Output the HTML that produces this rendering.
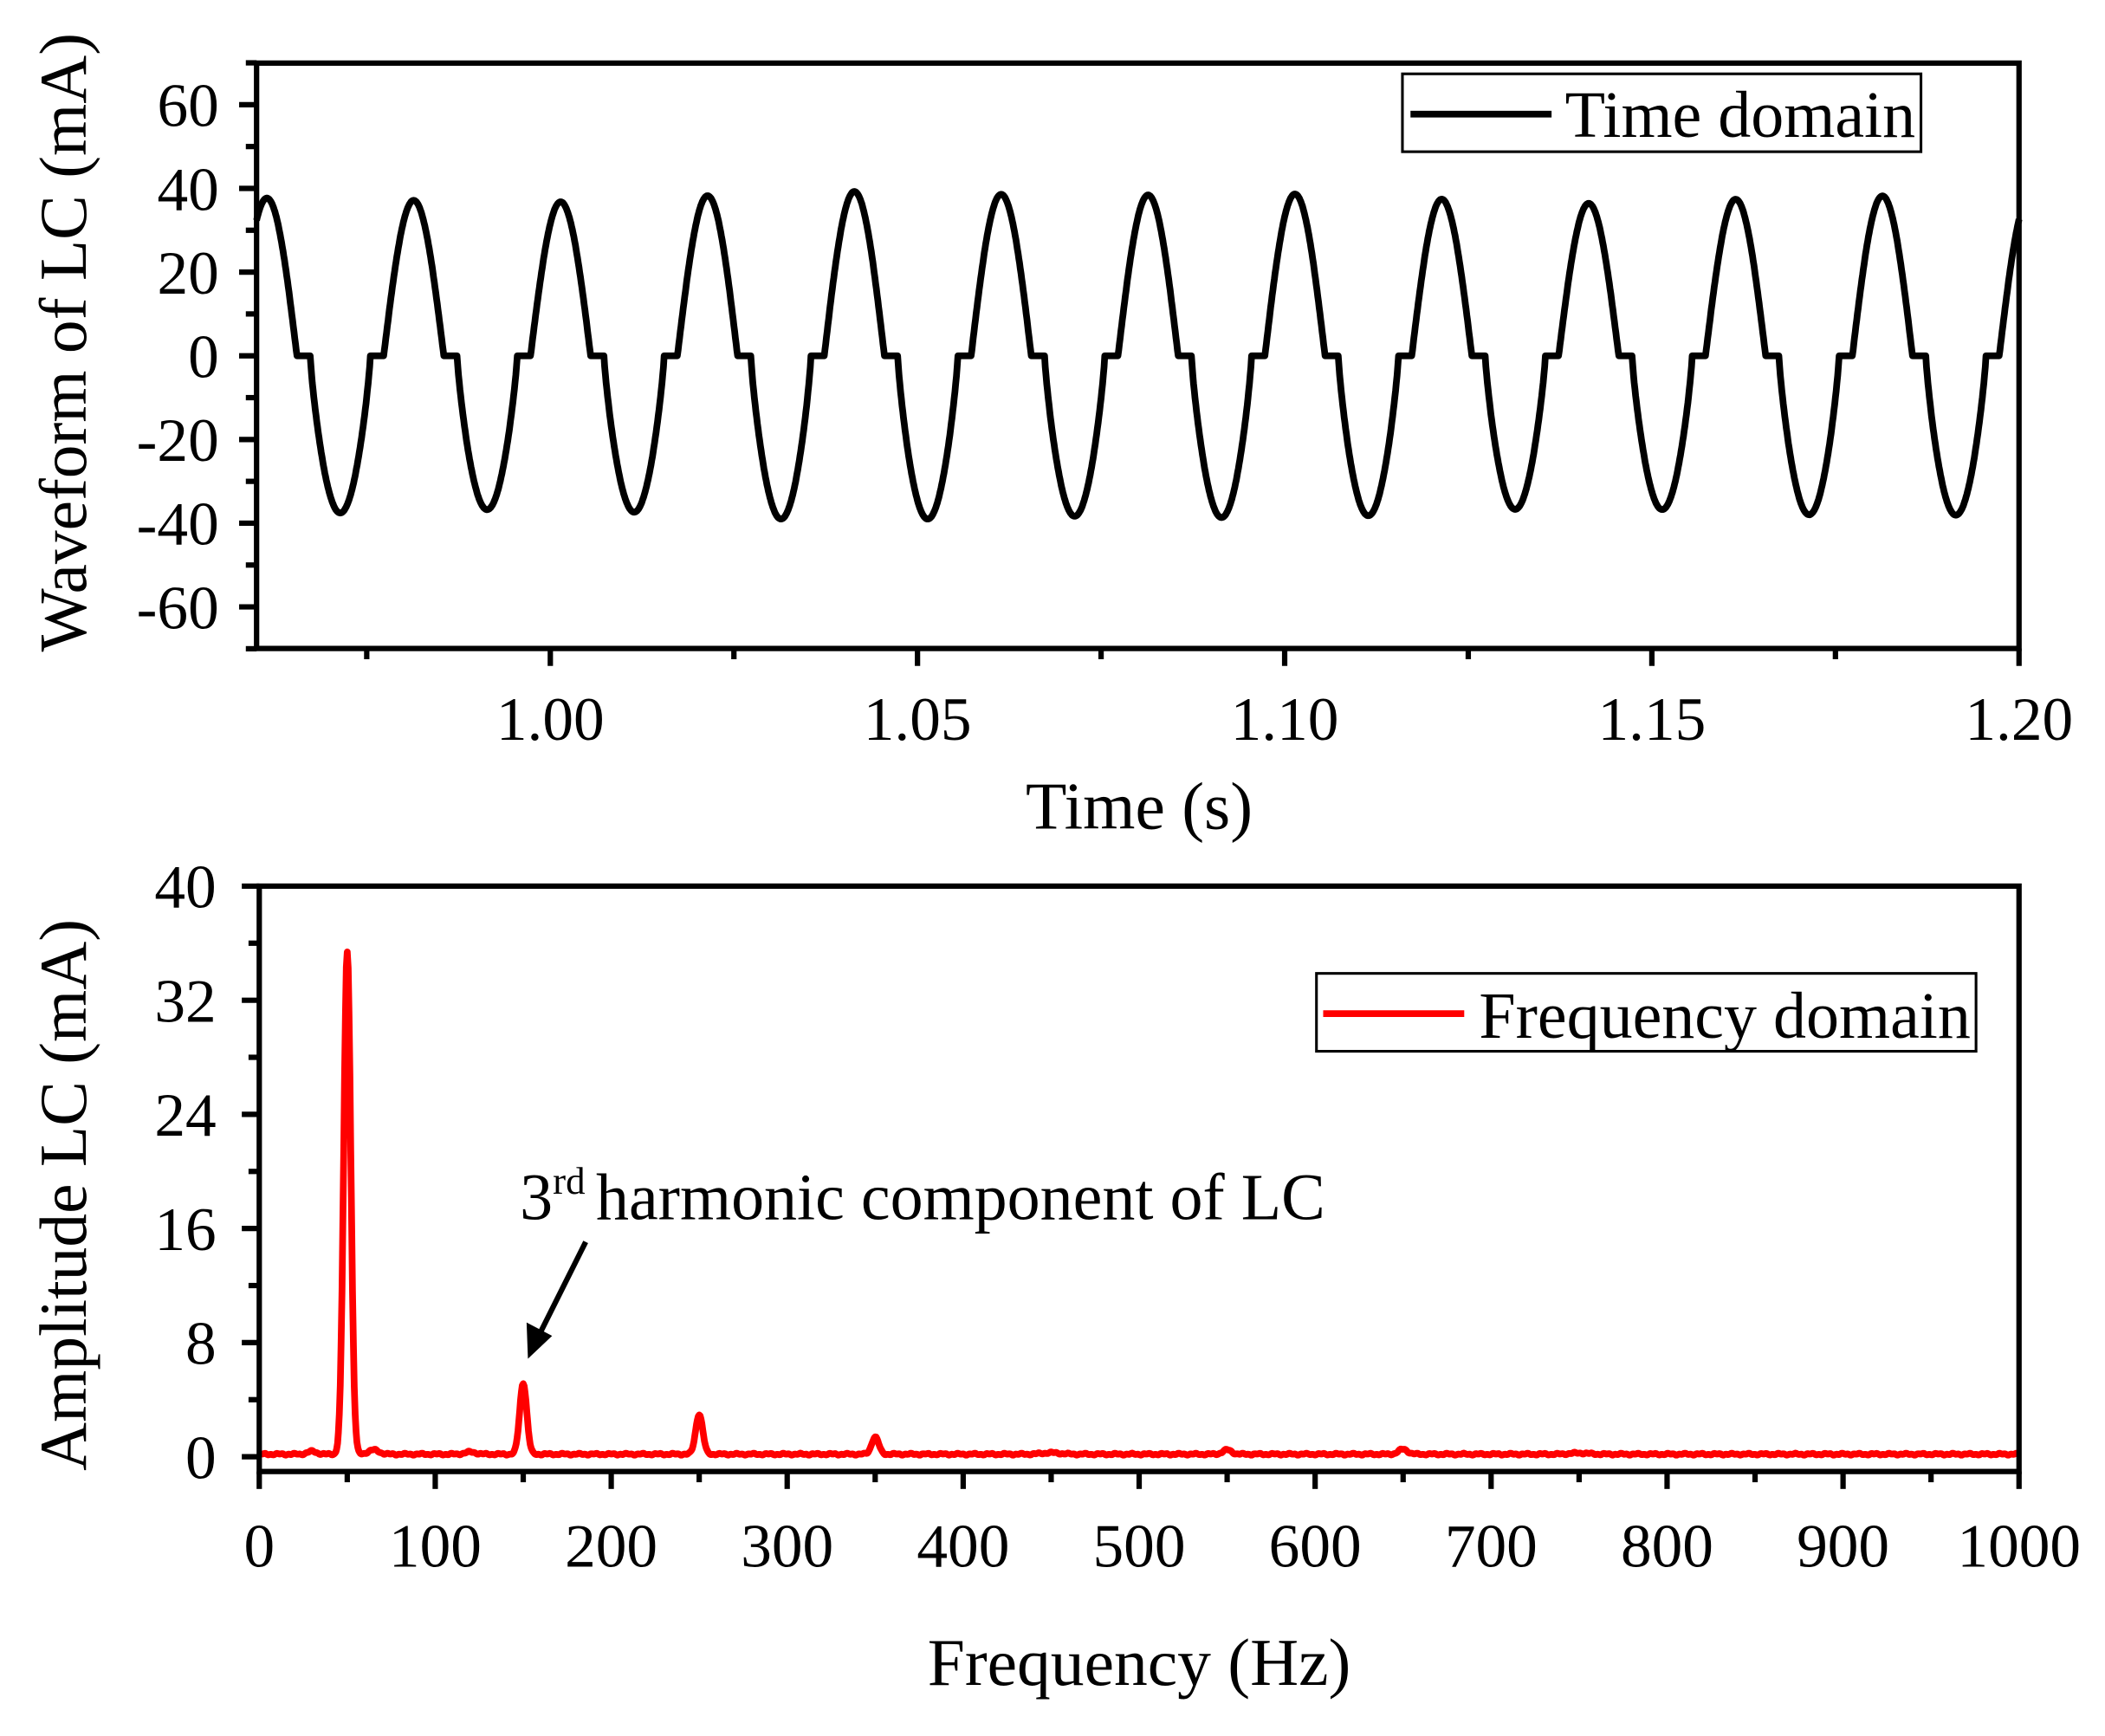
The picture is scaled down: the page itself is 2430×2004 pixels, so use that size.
<!DOCTYPE html>
<html><head><meta charset="utf-8"><style>
html,body{margin:0;padding:0;background:#fff;}
svg{display:block;}
text{font-family:"Liberation Serif",serif;fill:#000;}
</style></head><body>
<svg id="s" width="2430" height="2004" viewBox="0 0 1567 1293" preserveAspectRatio="none" xmlns="http://www.w3.org/2000/svg">
<rect x="0" y="0" width="1567" height="1293" fill="#fff"/>
<g id="g"></g>
<rect x="1044" y="55" width="386" height="58" fill="#fff" stroke="#000" stroke-width="2"/>
<line x1="1050" y1="85" x2="1155" y2="85" stroke="#000" stroke-width="5"/>
<text x="1165" y="102" font-size="49">Time domain</text>
<rect x="980" y="725" width="491" height="58" fill="#fff" stroke="#000" stroke-width="2"/>
<line x1="985" y1="755" x2="1090" y2="755" stroke="#f00" stroke-width="5"/>
<text x="1101" y="773" font-size="49">Frequency domain</text>
<text x="387" y="908" font-size="49">3<tspan dy="-19" font-size="29">rd</tspan><tspan dy="19" dx="8">harmonic component of LC</tspan></text>
<line x1="436" y1="925" x2="401" y2="995" stroke="#000" stroke-width="4"/>
<polygon points="393,1012 392,985 411,995" fill="#000"/>
<text x="848" y="617" font-size="50" text-anchor="middle">Time (s)</text>
<text x="848" y="1255" font-size="50" text-anchor="middle">Frequency (Hz)</text>
<text transform="translate(64,255) rotate(-90)" font-size="50" text-anchor="middle">Waveform of LC (mA)</text>
<text transform="translate(64,890) rotate(-90)" font-size="50" text-anchor="middle">Amplitude LC (mA)</text>
</svg>
<script>
var NS="http://www.w3.org/2000/svg",g=document.getElementById('g');
function el(t,a,txt){var e=document.createElementNS(NS,t);for(var k in a)e.setAttribute(k,a[k]);if(txt!==undefined)e.textContent=txt;g.appendChild(e);return e;}
var L=191,R=1503,T=47,B=483;
function tx(t){return L+(t-0.96)/(0.24)*(R-L);}
function ty(v){return 265-v*3.117;}
var pts=[],d=0.57,P=0.02,t0=0.9614;
function wave(t){
 var ph=((t-t0)/P)%1; if(ph<0)ph+=1; var phi=ph*2*Math.PI;
 var A=38+1.0*Math.sin(t*37)+0.6*Math.cos(t*91);
 var h=Math.PI/2-d/2;
 if(phi<=h) return A*Math.cos(phi*(Math.PI/2)/h);
 if(phi<Math.PI/2+d/2) return 0;
 if(phi<=3*Math.PI/2-d/2){var u=(phi-(Math.PI/2+d/2))/(Math.PI-d);return -A*Math.pow(Math.sin(u*Math.PI),0.8);}
 if(phi<3*Math.PI/2+d/2) return 0;
 var u2=(phi-(3*Math.PI/2+d/2))/h; return A*Math.sin(u2*Math.PI/2);
}
for(var i=0;i<=2400;i++){var t=0.96+0.24*i/2400;pts.push(tx(t).toFixed(1)+","+ty(wave(t)).toFixed(1));}
el('polyline',{points:pts.join(' '),fill:'none',stroke:'#000','stroke-width':5,'stroke-linejoin':'round'});
el('rect',{x:L,y:T,width:R-L,height:B-T,fill:'none',stroke:'#000','stroke-width':4});
for(var v=-70;v<=70;v+=10){var y=ty(v),mj=(v%20===0);el('line',{x1:L,y1:y,x2:L-(mj?13:8),y2:y,stroke:'#000','stroke-width':4});
 if(mj&&Math.abs(v)<=60)el('text',{x:163,y:y+16,'font-size':46,'text-anchor':'end'},v);}
for(var k=0;k<=9;k++){var t=0.975+0.025*k,x=tx(t),mj=(k%2===1);el('line',{x1:x,y1:B,x2:x,y2:B+(mj?13:8),stroke:'#000','stroke-width':4});
 if(mj)el('text',{x:x,y:551,'font-size':46,'text-anchor':'middle'},t.toFixed(2));}
var L2=193,R2=1503,T2=660,B2=1096;
function fx(f){return L2+f/1000*(R2-L2);}
function fy(a){return 1085-a*10.625;}
var sp=[],peaks=[[50,35.2,2.0],[150,5.0,2.0],[250,2.8,2.0],[350,1.2,2.0],[550,0.3,2.5],[650,0.35,2.5],[30,0.2,2.5],[65,0.3,3],[120,0.15,3],[450,0.1,5],[750,0.08,5]];
for(var i=0;i<=2000;i++){var f=i/2;var a=0.18+0.04*Math.sin(f*0.7)+0.03*Math.cos(f*1.9);
 for(var j=0;j<peaks.length;j++){var p=peaks[j];a+=p[1]*Math.exp(-Math.pow((f-p[0])/p[2],2)/2);}
 sp.push(fx(f).toFixed(1)+","+fy(a).toFixed(1));}
el('polyline',{points:sp.join(' '),fill:'none',stroke:'#f00','stroke-width':5,'stroke-linejoin':'round'});
el('rect',{x:L2,y:T2,width:R2-L2,height:B2-T2,fill:'none',stroke:'#000','stroke-width':4});
for(var v=0;v<=40;v+=4){var y=fy(v),mj=(v%8===0);el('line',{x1:L2,y1:y,x2:L2-(mj?13:8),y2:y,stroke:'#000','stroke-width':4});
 if(mj)el('text',{x:161,y:y+16,'font-size':46,'text-anchor':'end'},v);}
for(var f=0;f<=1000;f+=50){var x=fx(f),mj=(f%100===0);el('line',{x1:x,y1:B2,x2:x,y2:B2+(mj?13:8),stroke:'#000','stroke-width':4});
 if(mj)el('text',{x:x,y:1167,'font-size':46,'text-anchor':'middle'},f);}
</script>
</body></html>
